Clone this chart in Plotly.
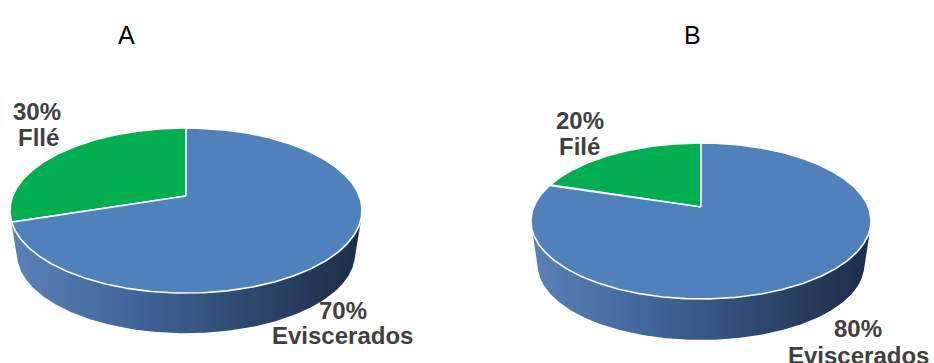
import numpy as np
import plotly.graph_objects as go

# Data
panel_titles = ["A", "B"]
labels_a = ["Fllé", "Eviscerados"]
values_a = [30, 70]
labels_b = ["Filé", "Eviscerados"]
values_b = [20, 80]
slice_colors = ["#00b050", "#4f81bd"]

W, H = 934, 363

# Perspective geometry of each tilted pie, in pixel space
geoms = [
    dict(cx=186, cy=196, rx=173.3, ry=80.0, k=0.176, drop=44.0, shrink=0.96),
    dict(cx=701, cy=207, rx=167.3, ry=75.5, k=0.179, drop=44.7, shrink=0.96),
]

# Label anchor positions (centre of each text line)
label_pos = [
    [((37, 111), (38, 137.5)), ((343, 310), (342.5, 335.5))],
    [((580, 120), (579, 146.5)), ((858, 328.5), (858, 355))],
]
title_pos = [(126, 35), (692, 35)]

side_scale = [[0.0, "#5a82b8"], [0.35, "#40659a"], [0.7, "#2c466c"], [1.0, "#1c2d47"]]


def project(g, t, bottom=False):
    w = 1 + g["k"] * np.sin(t)
    s = g["shrink"] if bottom else 1.0
    dy = g["drop"] if bottom else 0.0
    u = g["cx"] + s * g["rx"] * np.cos(t) / w
    v = g["cy"] + dy - s * g["ry"] * np.sin(t) / w
    return u, v


def convex_hull(xs, ys):
    pts = sorted(set(zip(np.round(xs, 3), np.round(ys, 3))))

    def cross(o, a, b):
        return (a[0] - o[0]) * (b[1] - o[1]) - (a[1] - o[1]) * (b[0] - o[0])

    lower, upper = [], []
    for p in pts:
        while len(lower) >= 2 and cross(lower[-2], lower[-1], p) <= 0:
            lower.pop()
        lower.append(p)
    for p in reversed(pts):
        while len(upper) >= 2 and cross(upper[-2], upper[-1], p) <= 0:
            upper.pop()
        upper.append(p)
    hull = lower[:-1] + upper[:-1]
    hull.append(hull[0])
    return [p[0] for p in hull], [p[1] for p in hull]


fig = go.Figure()

for g, values in zip(geoms, [values_a, values_b]):
    # body of the disc (side wall)
    tt = np.linspace(0, 2 * np.pi, 721)
    ux, vy = project(g, tt)
    bx, by = project(g, tt, bottom=True)
    hx, hy = convex_hull(np.concatenate([ux, bx]), np.concatenate([vy, by]))
    fig.add_trace(go.Scatter(
        x=hx, y=hy, mode="lines", fill="toself",
        line=dict(width=0, color="rgba(0,0,0,0)"),
        fillgradient=dict(type="horizontal", colorscale=side_scale,
                          start=min(hx), stop=max(hx)),
        hoverinfo="skip", showlegend=False,
    ))

    # top face slices, counter-clockwise from 12 o'clock
    total = float(sum(values))
    start = 90.0
    for val, col in zip(values, slice_colors):
        end = start + 360.0 * val / total
        ts = np.radians(np.linspace(start, end, max(int(end - start) * 2, 4)))
        sx, sy = project(g, ts)
        px = [g["cx"]] + list(sx) + [g["cx"]]
        py = [g["cy"]] + list(sy) + [g["cy"]]
        fig.add_trace(go.Scatter(
            x=px, y=py, mode="lines", fill="toself", fillcolor=col,
            line=dict(color="white", width=1.6),
            hoverinfo="skip", showlegend=False,
        ))
        start = end

annotations = []
font_lbl = dict(family="Liberation Sans, Arial, sans-serif", size=24, color="#404040")
for labels, values, pos in zip([labels_a, labels_b], [values_a, values_b], label_pos):
    for lab, val, ((x1, y1), (x2, y2)) in zip(labels, values, pos):
        annotations.append(dict(x=x1, y=y1, text=f"<b>{val}%</b>", showarrow=False,
                                xanchor="center", yanchor="middle", font=font_lbl))
        annotations.append(dict(x=x2, y=y2, text=f"<b>{lab}</b>", showarrow=False,
                                xanchor="center", yanchor="middle", font=font_lbl))
for title, (x, y) in zip(panel_titles, title_pos):
    annotations.append(dict(x=x, y=y, text=title, showarrow=False,
                            xanchor="center", yanchor="middle",
                            font=dict(family="Liberation Sans, Arial, sans-serif",
                                      size=25, color="#000000")))

fig.update_layout(
    width=W, height=H,
    margin=dict(l=0, r=0, t=0, b=0),
    paper_bgcolor="white", plot_bgcolor="white",
    xaxis=dict(range=[0, W], visible=False, fixedrange=True),
    yaxis=dict(range=[H, 0], visible=False, fixedrange=True),
    annotations=annotations,
)

fig.write_html("out.html")
